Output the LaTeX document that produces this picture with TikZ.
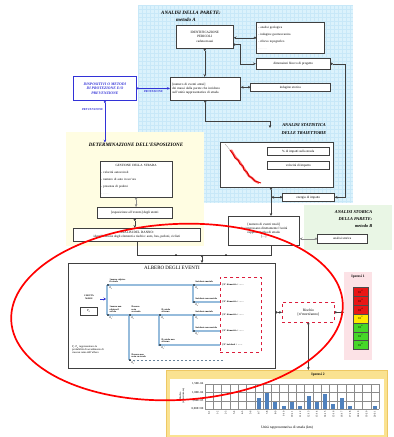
\documentclass[tikz,border=0pt]{standalone}
\usepackage{fontspec}
\setmainfont{Liberation Serif}
\usetikzlibrary{arrows.meta,calc}

\definecolor{bluebg}{RGB}{219,242,252}
\definecolor{bluegrid}{RGB}{200,232,248}
\definecolor{yellowbg}{RGB}{255,253,226}
\definecolor{greenbg}{RGB}{233,246,229}
\definecolor{dispblue}{RGB}{50,50,215}
\definecolor{treeblue}{RGB}{150,188,220}
\definecolor{barblue}{RGB}{79,129,189}
\definecolor{ipAbg}{RGB}{252,226,230}
\definecolor{ipBbg}{RGB}{250,226,145}
\definecolor{ipBbd}{RGB}{238,200,100}
\definecolor{cellred}{RGB}{232,22,22}
\definecolor{cellyel}{RGB}{255,232,0}
\definecolor{cellgrn}{RGB}{70,215,40}
\definecolor{riskred}{RGB}{220,30,60}

\newcommand\szBox{\fontsize{3.3}{4.1}\selectfont}
\newcommand\szTitle{\fontsize{5}{6.5}\selectfont\bfseries\itshape}
\newcommand\szTree{\fontsize{2.3}{2.7}\selectfont\bfseries}
\newcommand\szChart{\fontsize{3}{3.5}\selectfont}
\newcommand\morti{N° di morti/a = \dots\dots}

\begin{document}
\begin{tikzpicture}[x=1pt,y=-1pt,
  box/.style={draw=black!75, fill=white, line width=0.55pt, inner sep=0.8pt,
              anchor=north west, font=\szBox, align=center},
  title/.style={font=\szTitle, inner sep=0.5pt, align=center},
  conn/.style={draw=black!75, line width=0.45pt,
               {Circle[length=2.2pt]}-{Stealth[length=3pt,width=2.6pt]}},
  plainline/.style={draw=black!75, line width=0.45pt},
  tline/.style={draw=treeblue, line width=1.1pt},
  tlab/.style={font=\szTree, inner sep=0.3pt, align=left},
  bluelab/.style={font=\fontsize{3}{3.5}\selectfont\bfseries\itshape, text=dispblue, inner sep=0.5pt},
  cell/.style={draw=black!70, line width=0.3pt, anchor=north west, minimum width=15,
               minimum height=8.9, inner sep=0, font=\szChart}
]
\useasboundingbox (0,0) rectangle (394,437);
\fill[white] (0,0) rectangle (394,437);

% ---------- background areas ----------
\fill[bluebg] (138,5) rectangle (353,203);
\foreach \gx in {138,142,...,353} \draw[bluegrid, line width=0.15pt] (\gx,5) -- (\gx,203);
\foreach \gy in {5,9,...,203} \draw[bluegrid, line width=0.15pt] (138,\gy) -- (353,\gy);
\fill[yellowbg] (66,132) rectangle (204,246);
\fill[greenbg] (304,205) rectangle (392,250);

% ---------- rock face analysis, method A ----------
\node[title] (tA) at (191,13) {ANALISI DELLA PARETE:};
\node[title] (tA2) at (186,20) {metodo A};
\node[box, minimum width=57, minimum height=23] (idp) at (176,25)
  {IDENTIFICAZIONE\\PERICOLI\\[1.5pt]caduta massi};
\node[box, text width=64, inner xsep=2, minimum height=31, align=left,
      font=\fontsize{3.2}{7}\selectfont] (geo) at (256,22)
  {- analisi geologica\\- indagine geomeccanica\\- rilievo topografico\\\textcolor{black!30}{- \dots\dots}};
\node[box, minimum width=74, minimum height=11] (dim) at (256,58) {dimensioni blocco di progetto};
\node[box, text width=66, inner xsep=2, minimum height=23, align=left] (att) at (170,77)
  {[numero di eventi attesi]\\ dei massi dalla parete che incidono\\sull'unità rappresentativa di strada};
\node[box, minimum width=80, minimum height=8] (isto) at (250,83) {indagine storica};

% ---------- protection / prevention ----------
\node[box, draw=dispblue, line width=0.8pt, minimum width=63, minimum height=24, text=dispblue,
      font=\fontsize{3.8}{4.6}\selectfont\bfseries\itshape] (disp) at (73,76)
  {DISPOSITIVI O METODI\\DI PROTEZIONE E/O\\PREVENZIONE};

% ---------- trajectory statistics ----------
\node[title, font=\fontsize{4.4}{8}\selectfont\bfseries\itshape] (tS) at (304,129)
  {ANALISI STATISTICA\\DELLE TRAIETTORIE};
\node[box, minimum width=113, minimum height=45] (stat) at (220,142) {};
\node[box, minimum width=62, minimum height=8] (imp) at (267,147) {\% di impatti sulla strada};
\node[box, minimum width=62, minimum height=8] (vel) at (267,161) {velocità di impatto};
\draw[black!40, line width=0.3pt] (225,144) -- (231,151);
\draw[red!60, line width=2.2pt, line join=round] (231,150) -- (234,155) -- (236,158) -- (239,161)
  -- (241,164) -- (243,167) -- (245,170) -- (247,173) -- (249,176) -- (252,178) -- (255,181) -- (259,183);
\draw[red!85!black, line width=0.9pt, line join=round] (230,150) -- (233,154) -- (235,158) -- (238,160)
  -- (240,164) -- (243,166) -- (244,170) -- (247,172) -- (249,176) -- (252,178) -- (255,181) -- (261,183);
\node[box, minimum width=52, minimum height=8] (ene) at (282,193) {energia di impatto};

% ---------- historical analysis, method B ----------
\node[title, font=\fontsize{4.4}{7}\selectfont\bfseries\itshape, align=right, anchor=north east] (tB) at (373,210)
  {ANALISI STORICA\\DELLA PARETE:\\metodo B};
\node[box, minimum width=71, minimum height=29] (tot) at (228,216)
  {[numero di eventi totali]\\che interessano direttamente l'unità\\rappresentativa di strada\\{[\dots]}};
\node[box, minimum width=50, minimum height=9] (asto) at (317,234) {analisi storica};

% ---------- exposure ----------
\node[title] (tE) at (136,145) {DETERMINAZIONE DELL'ESPOSIZIONE};
\node[box, text width=70, minimum height=36, align=left, font=\fontsize{3.2}{7}\selectfont] (gest) at (100,161)
  {\makebox[70pt][c]{GESTIONE DELLA STRADA}\\- velocità autoveicoli\\- numero di auto in un'ora\\- presenza di pedoni\\\textcolor{black!30}{- \dots\dots}};
\node[box, minimum width=75, minimum height=11] (espo) at (97,207) {[esposizione all'evento] degli utenti};
\node[box, minimum width=127, minimum height=13] (danno) at (73,228)
  {ANALISI DEL DANNO:\\identificazione degli elementi a rischio: auto, bus, pedoni, ciclisti};

% ---------- event tree ----------
\node[box, minimum width=207, minimum height=105] (albero) at (68,263) {};
\node[font=\fontsize{5}{6}\selectfont, inner sep=0.5pt] (tAlb) at (172,268) {ALBERO DEGLI EVENTI};
\node[tlab, align=center] (cm) at (89,297) {CADUTA\\MASSI};
\node[draw=black!75, line width=0.4pt, minimum width=17, minimum height=8, inner sep=0,
      anchor=north west, font=\szChart] (p0) at (80,307) {P\textsubscript{0}};
\draw[dispblue, line width=1pt, -{Stealth[length=2.5pt,width=3pt]}] (100,299) -- (106,299);

\draw[tline] (107,285) -- (107,315);
\draw[tline] (107,285) -- (220,285);
\draw[tline] (193,285) -- (193,302) -- (220,302);
\draw[tline] (107,315) -- (220,315);
\draw[tline] (129,315) -- (129,360);
\draw[tline] (159,315) -- (159,345) -- (220,345);
\draw[tline] (193,315) -- (193,331) -- (220,331);
\draw[draw=treeblue!70!black, line width=0.6pt, dash pattern=on 2pt off 2pt] (129,360) -- (223,360);
\foreach \dx/\dy in {107/285,107/315,129/315,129/360,159/315,159/345,193/285,193/302,193/315,193/331}
  \fill (\dx+1,\dy) circle (0.8pt);

\node[tlab, anchor=south west] at (109,283.5) {1 masso colpisce\\il veicolo};
\node[tlab, anchor=north west] at (109,286.5) {P\textsubscript{1}};
\node[tlab, anchor=south west] at (109,313.5) {1 masso non\\colpisce il\\veicolo};
\node[tlab, anchor=north west] at (109,316.5) {P\textsubscript{1}'};
\node[tlab, anchor=south west] at (131,313.5) {Il masso\\resta\\su strada};
\node[tlab, anchor=north west] at (131,316.5) {P\textsubscript{2}};
\node[tlab, anchor=south west] at (131,358.5) {Il masso non\\resta su strada};
\node[tlab, anchor=north west] at (131,361.5) {P\textsubscript{2}'};
\node[tlab, anchor=south west] at (161,313.5) {Il veicolo\\si ferma};
\node[tlab, anchor=north west] at (161,316.5) {P\textsubscript{3}};
\node[tlab, anchor=south west] at (161,343.5) {Il veicolo non\\si ferma};
\node[tlab, anchor=north west] at (161,346.5) {P\textsubscript{3}'};
\node[tlab, anchor=south west] at (195,283.5) {Incidente mortale};
\node[tlab, anchor=north west] at (195,286.5) {P\textsubscript{4}};
\node[tlab, anchor=south west] at (195,300.5) {Incidente non mortale};
\node[tlab, anchor=north west] at (195,303.5) {P\textsubscript{4}'};
\node[tlab, anchor=south west] at (195,313.5) {Incidente mortale};
\node[tlab, anchor=north west] at (195,316.5) {P\textsubscript{5}};
\node[tlab, anchor=south west] at (195,329.5) {Incidente non mortale};
\node[tlab, anchor=north west] at (195,332.5) {P\textsubscript{5}'};

\node[draw=riskred, dashed, line width=0.6pt, anchor=north west, minimum width=41,
      minimum height=75, inner sep=0] (out) at (220,277) {};
\node[tlab, anchor=west] (o1) at (222,285) {{[}\,\morti};
\node[tlab, anchor=west] (o2) at (222,302) {{[}\,\morti};
\node[tlab, anchor=west] (o3) at (222,315) {{[}\,\morti};
\node[tlab, anchor=west] (o4) at (222,331) {{[}\,\morti};
\node[tlab, anchor=west] (o5) at (222,345) {{[}\,N° incidenti = \dots\dots};

\node[font=\fontsize{2.7}{3.3}\selectfont, align=left, anchor=north west, inner sep=0] (nota) at (72,345)
  {P\textsubscript{i}-P\textsubscript{n} rappresentano la\\probabilità di accadimento di\\ciascun ramo dell'albero};

% ---------- risk ----------
\node[box, draw=riskred, dashed, line width=0.7pt, minimum width=52, minimum height=20,
      font=\fontsize{3.6}{4.4}\selectfont] (risk) at (282,302) {Rischio\\{[}n°morti/anno{]}};

% hypothesis 1: risk classes
\node[fill=ipAbg, anchor=north west, minimum width=28, minimum height=88, inner sep=0] (ip1) at (344,272) {};
\node[font=\fontsize{3.6}{4}\selectfont\bfseries, inner sep=0.3pt] (ip1t) at (358,277) {Ipotesi 1};
\foreach \k/\c in {0/cellred,1/cellred,2/cellred,3/cellyel,4/cellgrn,5/cellgrn,6/cellgrn} {
  \pgfmathtruncatemacro\ex{\k+2}
  \node[cell, fill=\c] (c\k) at (353,{287+\k*8.9}) {10\textsuperscript{-\ex}};
}

% hypothesis 2: risk per road unit
\node[fill=ipBbg, draw=ipBbd, line width=0.6pt, anchor=north west, minimum width=221,
      minimum height=67, inner sep=0] (ip2) at (166,370) {};
\node[font=\fontsize{3.6}{4}\selectfont\bfseries, inner sep=0.3pt] (ip2t) at (318,375) {Ipotesi 2};
\fill[white] (170,379) rectangle (384,435);
\foreach \i in {0,...,21} \draw[black!45, line width=0.25pt] ({205+\i*8.286},384) -- ({205+\i*8.286},409);
\foreach \j in {0,...,3} \draw[black!45, line width=0.25pt] (205,{384+\j*8.333}) -- (379,{384+\j*8.333});
\node[font=\szChart, anchor=east, inner sep=0.5pt] (y0) at (204,384) {1,50E-04};
\node[font=\szChart, anchor=east, inner sep=0.5pt] (y1) at (204,392.3) {1,00E-04};
\node[font=\szChart, anchor=east, inner sep=0.5pt] (y2) at (204,400.7) {5,00E-05};
\node[font=\szChart, anchor=east, inner sep=0.5pt] (y3) at (204,409) {0,00E+00};
\foreach \i/\h in {6/660,7/960,8/420,9/180,10/420,11/180,12/780,13/420,14/900,15/300,16/660,17/180,20/180}
  \fill[barblue] ({205+(\i+0.5)*8.286-2},409) rectangle ({205+(\i+0.5)*8.286+2},{409-\h/60});
\foreach \i in {0,1,2,3,4,5,6,7,8,9,10,11,12,13,14,15,16,17,18,19,20} {
  \pgfmathtruncatemacro\nx{\i+1}
  \node[rotate=90, anchor=east, font=\fontsize{2.6}{3}\selectfont, inner sep=0.3pt]
    at ({205+(\i+0.5)*8.286},411) {\i-\nx};
}
\node[rotate=90, font=\fontsize{2.6}{3}\selectfont, align=center, inner sep=0.3pt] (ylab) at (182,396)
  {Rischio\\(n°morti/anno)};
\node[font=\fontsize{3.6}{4}\selectfont, inner sep=0.3pt] (xlab) at (287,428) {Unità rappresentativa di strada (km)};

% ---------- connectors ----------
\coordinate (vx) at (271,0);
\coordinate (jn) at (202,255);
\coordinate (sIn) at (270,128);
\draw[conn] (geo.west) -- (geo.west -| idp.east);
\draw[conn] ($(idp.south east)+(0,-4)$) -- ++(7,0) |- (dim.west);
\draw[conn] (dim.east) -- ++(15,0) |- (ene.east);
\draw[conn] (idp.south) -- (idp.south |- att.north);
\draw[conn] (isto.west) -- (isto.west -| att.east);
\draw[conn, draw=dispblue] (disp.east) -- (disp.east -| att.west)
  node[bluelab, midway, below=1pt] {PROTEZIONE};
\draw[conn, draw=dispblue] (disp.south) -- (disp.south |- tE.north)
  node[bluelab, pos=0.22, left=1pt] {PREVENZIONE};
\draw[conn] (att.south) |- (270,121) -- (sIn);
\draw[conn] (stat.south -| vx) -- (tot.north -| vx);
\draw[conn] (ene.west) -- (ene.west -| vx);
\draw[conn, draw=black!45] (asto.west) -- (asto.west -| tot.east);
\draw[conn, draw=black!45] (gest.south) -- (gest.south |- espo.north);
\draw[conn] (espo.south) -- (espo.south |- danno.north);
\draw[plainline] (danno.south) |- (jn);
\draw[plainline] (tot.south -| vx) |- (jn);
\fill (176,255) circle (0.9pt);
\fill (226,255) circle (0.9pt);
\draw[conn] (jn) -- (jn |- albero.north);
\draw[conn] (albero.east |- risk.west) -- (risk.west);
\draw[conn] (risk.east) -- (risk.east -| ip1.west);
\draw[conn] (risk.south) -- (risk.south |- ip2.north);

% ---------- highlight ----------
\draw[red, line width=1.7pt, rotate around={3:(177,312)}] (177,312) ellipse [x radius=166pt, y radius=88pt];
\end{tikzpicture}
\end{document}
